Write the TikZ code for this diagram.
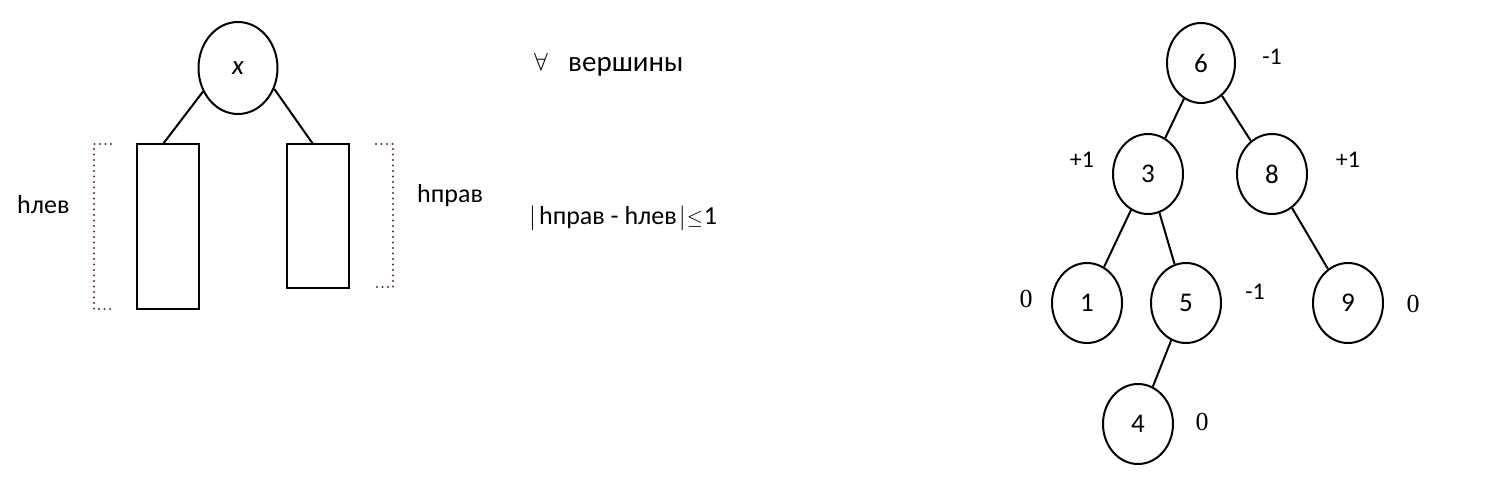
\documentclass[tikz,border=0pt]{standalone}
\usepackage{fontspec}
\setmainfont{Carlito}
\newfontfamily\serifnum{Liberation Serif}
\usetikzlibrary{shapes.geometric}
\definecolor{brk}{RGB}{95,40,50}
\begin{document}
\begin{tikzpicture}[x=1pt,y=1pt,
  treenode/.style={ellipse,draw,line width=2pt,minimum width=70pt,minimum height=80pt,inner sep=0pt,font=\fontsize{27}{30}\selectfont},
  edge/.style={line width=2pt},
  subtree/.style={rectangle,draw,line width=2pt,inner sep=0pt,outer sep=0pt,anchor=north west,minimum width=62pt},
  bracket/.style={line width=2.4pt,dash pattern=on 0pt off 5.5pt,line cap=round,color=brk},
  big/.style={font=\fontsize{26}{30}\selectfont,inner sep=0pt,anchor=base west},
  bal/.style={font=\fontsize{24}{28}\selectfont,inner sep=0pt},
  zero/.style={font=\serifnum\fontsize{26}{30}\selectfont,inner sep=0pt}
]
\useasboundingbox (0,0) rectangle (1502,-478);
% left schematic
\node[ellipse,draw,line width=2pt,minimum width=79pt,minimum height=92pt,inner sep=0pt,font=\itshape\fontsize{27}{30}\selectfont] (X) at (238,-68) {x};
\node[subtree,minimum height=165pt] (L) at (137,-144) {};
\node[subtree,minimum height=144pt] (R) at (287,-144) {};
\coordinate (la) at (163,-144);
\coordinate (ra) at (313,-144);
\draw[edge] (X.214) -- (la);
\draw[edge] (X.330) -- (ra);
\draw[bracket] (111,-144) -- (94,-144) -- (94,-309) -- (111,-309);
\draw[bracket] (376,-144) -- (393,-144) -- (393,-287) -- (376,-287);
\node[big] (hl) at (17,-214) {hлев};
\node[big] (hr) at (417,-203) {hправ};
% condition text
\node[font=\fontsize{32}{34}\selectfont,inner sep=0pt,anchor=base west] (fa) at (534,-71) {$\forall$};
\node[font=\fontsize{29}{33}\selectfont,inner sep=0pt,anchor=base west] (vs) at (568,-72) {вершины};
\node[big] (cond) at (529,-225) {{\fontsize{30}{30}\selectfont$|$}\kern3pt hправ - hлев\kern2pt{\fontsize{30}{30}\selectfont$|$}\kern1pt{\fontsize{22}{22}\selectfont$\leq$}\kern1pt 1};
% AVL tree
\node[treenode,minimum width=68pt] (n6) at (1201,-63) {6};
\node[treenode] (n3) at (1148,-174) {3};
\node[treenode] (n8) at (1272,-174) {8};
\node[treenode] (n1) at (1087,-303) {1};
\node[treenode] (n5) at (1186,-303) {5};
\node[treenode] (n9) at (1348,-303) {9};
\node[treenode] (n4) at (1138,-424) {4};
\draw[edge] (n6) -- (n3);
\draw[edge] (n6) -- (n8);
\draw[edge] (n3) -- (n1);
\draw[edge] (n3) -- (n5);
\draw[edge] (n8) -- (n9);
\draw[edge] (n5) -- (n4);
% balance factors
\node[bal] (b6) at (1272,-57) {-1};
\node[bal] (b3) at (1082,-160) {+1};
\node[bal] (b8) at (1348,-160) {+1};
\node[zero] (b1) at (1026,-299) {0};
\node[bal] (b5) at (1255,-292) {-1};
\node[zero] (b9) at (1413,-304) {0};
\node[zero] (b4) at (1202,-422) {0};
\end{tikzpicture}
\end{document}
